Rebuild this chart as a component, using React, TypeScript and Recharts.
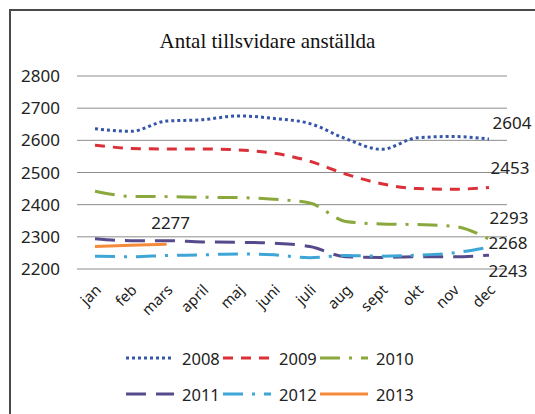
import React from 'react';
import { LineChart, Line, XAxis, YAxis, CartesianGrid } from 'recharts';

const months = ['jan', 'feb', 'mars', 'april', 'maj', 'juni', 'juli', 'aug', 'sept', 'okt', 'nov', 'dec'];
const y2008 = [2636, 2628, 2660, 2664, 2676, 2668, 2652, 2605, 2572, 2608, 2612, 2604];
const y2009 = [2585, 2575, 2573, 2573, 2570, 2560, 2535, 2495, 2465, 2450, 2448, 2453];
const y2010 = [2442, 2426, 2425, 2423, 2422, 2417, 2405, 2348, 2340, 2338, 2333, 2293];
const y2011 = [2294, 2288, 2288, 2284, 2283, 2280, 2270, 2238, 2236, 2238, 2238, 2243];
const y2012 = [2240, 2238, 2242, 2244, 2247, 2244, 2235, 2242, 2240, 2243, 2250, 2268];
const y2013 = [2270, 2274, 2277];
const yTicks = [2200, 2300, 2400, 2500, 2600, 2700, 2800];

const data = months.map((m, i) => ({
  month: m,
  y2008: y2008[i],
  y2009: y2009[i],
  y2010: y2010[i],
  y2011: y2011[i],
  y2012: y2012[i],
  y2013: i < y2013.length ? y2013[i] : null,
}));

// line styles + where Excel put the one value label of each series
const SERIES = [
  { key: 'y2008', name: '2008', color: '#3556a8', dash: '3 3', labelAt: 11, dx: 23, dy: -16 },
  { key: 'y2009', name: '2009', color: '#dc3039', dash: '10 8', labelAt: 11, dx: 21, dy: -20 },
  { key: 'y2010', name: '2010', color: '#8aa83c', dash: '20 9 3 9', labelAt: 11, dx: 20, dy: -21 },
  { key: 'y2011', name: '2011', color: '#574a8c', dash: '20 10', labelAt: 11, dx: 19, dy: 16 },
  { key: 'y2012', name: '2012', color: '#3ea6d6', dash: '20 9 3 9', labelAt: 11, dx: 19, dy: -4 },
  { key: 'y2013', name: '2013', color: '#f58a3a', dash: undefined, labelAt: 2, dx: 4, dy: -21 },
];

const FONT = '"Noto Sans", sans-serif';

const YTick = (props: any) => {
  const { y, payload } = props;
  return (
    <text x={60} y={y} dy={6} textAnchor="end" fontFamily={FONT} fontSize={17} fill="#222">
      {payload.value}
    </text>
  );
};

const XTick = (props: any) => {
  const { x, y, payload } = props;
  const tx = x + 7;
  const ty = y + 14;
  return (
    <text
      x={tx}
      y={ty}
      textAnchor="end"
      transform={`rotate(-45, ${tx}, ${ty})`}
      fontFamily={FONT}
      fontSize={15}
      fill="#222"
    >
      {payload.value}
    </text>
  );
};

const makeLabel = (s: (typeof SERIES)[number]) => (props: any) => {
  const { x, y, index, value } = props;
  if (index !== s.labelAt || value == null) return null;
  return (
    <text
      key={`${s.key}-lbl`}
      x={x + s.dx}
      y={y + s.dy}
      dy={6}
      textAnchor="middle"
      fontFamily={FONT}
      fontSize={17}
      fill="#222"
    >
      {value}
    </text>
  );
};

const LegendItem = ({ s, left, top }: { s: (typeof SERIES)[number]; left: number; top: number }) => (
  <div style={{ position: 'absolute', left, top, display: 'flex', alignItems: 'center', height: 22 }}>
    <svg width={48} height={6}>
      <line x1={0} y1={3} x2={48} y2={3} stroke={s.color} strokeWidth={3} strokeDasharray={s.dash} />
    </svg>
    <span style={{ marginLeft: 8, fontFamily: FONT, fontSize: 16.5, color: '#222' }}>{s.name}</span>
  </div>
);

export default function App() {
  return (
    <div style={{ position: 'absolute', left: 0, top: 0, width: 535, height: 414, background: '#fff', overflow: 'hidden' }}>
      <div
        style={{
          position: 'absolute',
          left: 9,
          top: 9,
          width: 540,
          height: 420,
          borderLeft: '2px solid #4a4a4a',
          borderTop: '2px solid #4a4a4a',
        }}
      />
      <div
        style={{
          position: 'absolute',
          left: 0,
          top: 29,
          width: 535,
          textAlign: 'center',
          fontFamily: '"Liberation Serif", serif',
          fontSize: 21,
          color: '#111',
        }}
      >
        Antal tillsvidare anställda
      </div>
      <div style={{ position: 'absolute', left: 0, top: 0 }}>
        <LineChart width={535} height={414} data={data} margin={{ top: 76, right: 28, left: 0, bottom: 0 }}>
          <CartesianGrid vertical={false} stroke="#8c8c8c" strokeWidth={1} />
          <XAxis
            dataKey="month"
            height={145}
            axisLine={false}
            tickLine={false}
            interval={0}
            padding={{ left: 18, right: 18 }}
            tick={<XTick />}
          />
          <YAxis
            width={77}
            domain={[2200, 2800]}
            ticks={yTicks}
            axisLine={false}
            tickLine={false}
            tick={<YTick />}
          />
          {SERIES.map((s) => (
            <Line
              key={s.key}
              type="monotone"
              dataKey={s.key}
              stroke={s.color}
              strokeWidth={3}
              strokeDasharray={s.dash}
              dot={false}
              activeDot={false}
              connectNulls={false}
              isAnimationActive={false}
              label={makeLabel(s)}
            />
          ))}
        </LineChart>
      </div>
      {SERIES.map((s, i) => (
        <LegendItem key={s.key} s={s} left={126 + (i % 3) * 97} top={i < 3 ? 347 : 383} />
      ))}
    </div>
  );
}
